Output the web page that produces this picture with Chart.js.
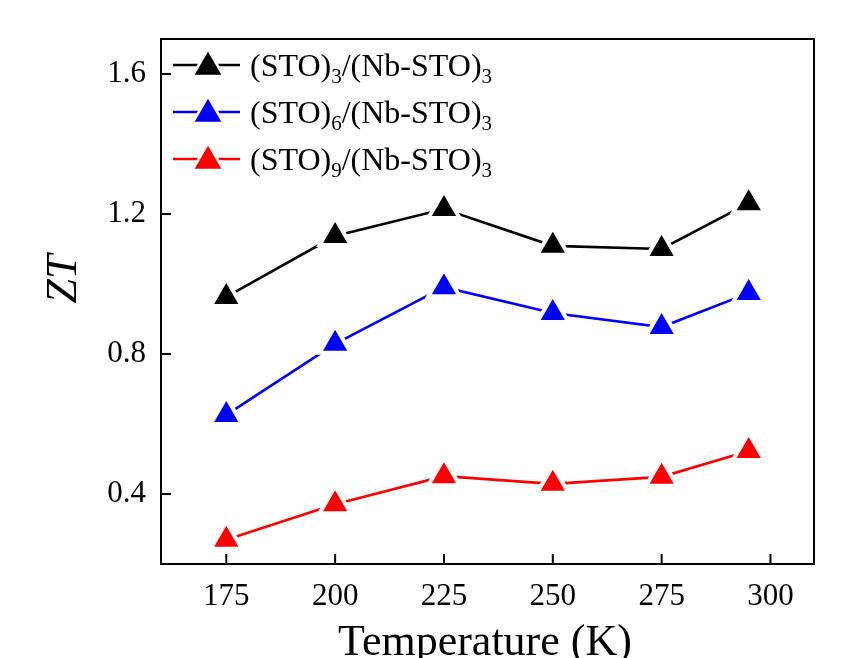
<!DOCTYPE html>
<html>
<head>
<meta charset="utf-8">
<script src="https://cdn.jsdelivr.net/npm/chart.js@4"></script>
<style>
  html, body { margin: 0; padding: 0; background: #fff; }
</style>
</head>
<body>
<canvas id="ztChart" width="847" height="658"></canvas>
<script>
// ---- data ----
const temps = [175, 200, 225, 250, 275, 295];
const zt3 = [0.963, 1.137, 1.214, 1.109, 1.100, 1.231];
const zt6 = [0.626, 0.829, 0.991, 0.917, 0.877, 0.974];
const zt9 = [0.269, 0.371, 0.451, 0.429, 0.449, 0.523];
const xTicks = [175, 200, 225, 250, 275, 300];
const yTicks = [0.4, 0.8, 1.2, 1.6];
const seriesNames = ['(STO)3/(Nb-STO)3', '(STO)6/(Nb-STO)3', '(STO)9/(Nb-STO)3'];
// legend text split into [normal, sub, normal, sub]
const legendParts = [
  ['(STO)', '3', '/(Nb-STO)', '3'],
  ['(STO)', '6', '/(Nb-STO)', '3'],
  ['(STO)', '9', '/(Nb-STO)', '3']
];
const seriesColors = ['#000000', '#0000ff', '#ff0000'];

const FONT = "'Liberation Serif', 'Times New Roman', serif";
const MARK_R = 18, MARK_GAP = 4;

function makeSet(label, values, color) {
  return {
    label: label,
    data: temps.map((t, i) => ({ x: t, y: values[i] })),
    borderColor: color,
    borderWidth: 2.6,
    pointStyle: 'triangle',
    pointRadius: MARK_R,
    pointHoverRadius: MARK_R,
    pointBackgroundColor: color,
    pointBorderColor: '#ffffff',
    pointBorderWidth: MARK_GAP,
    pointHoverBorderWidth: MARK_GAP,
    tension: 0
  };
}

// frame + inward ticks
const framePlugin = {
  id: 'frame',
  beforeDatasetsDraw(chart) {
    const { ctx, chartArea: a, scales } = chart;
    ctx.save();
    ctx.strokeStyle = '#000';
    ctx.lineWidth = 2;
    ctx.strokeRect(a.left, a.top, a.right - a.left, a.bottom - a.top);
    ctx.beginPath();
    scales.x.ticks.forEach(t => {
      const px = scales.x.getPixelForValue(t.value);
      ctx.moveTo(px, a.bottom);
      ctx.lineTo(px, a.bottom - 10);
    });
    scales.y.ticks.forEach(t => {
      const py = scales.y.getPixelForValue(t.value);
      ctx.moveTo(a.left, py);
      ctx.lineTo(a.left + 10, py);
    });
    ctx.stroke();
    ctx.restore();
  }
};

// legend with subscripts, axis titles
const decorPlugin = {
  id: 'decor',
  afterDraw(chart) {
    const { ctx, chartArea: a } = chart;
    ctx.save();
    chart.data.datasets.forEach((ds, i) => {
      const y = a.top + 26 + i * 47;
      const x0 = a.left + 12;
      ctx.strokeStyle = ds.borderColor;
      ctx.lineWidth = 2.6;
      ctx.beginPath();
      ctx.moveTo(x0, y);
      ctx.lineTo(x0 + 67, y);
      ctx.stroke();
      ctx.fillStyle = ds.borderColor;
      ctx.strokeStyle = '#ffffff';
      Chart.helpers.drawPoint(ctx, { pointStyle: 'triangle', radius: MARK_R, rotation: 0, borderWidth: MARK_GAP }, x0 + 35, y + 2);
      // text
      let tx = a.left + 89;
      ctx.fillStyle = '#000';
      ctx.textBaseline = 'alphabetic';
      ctx.textAlign = 'left';
      legendParts[i].forEach((part, k) => {
        const sub = k % 2 === 1;
        ctx.font = (sub ? '21px ' : '32px ') + FONT;
        ctx.fillText(part, tx, y + (sub ? 18 : 11));
        tx += ctx.measureText(part).width;
      });
    });
    // axis titles
    ctx.fillStyle = '#000';
    ctx.textAlign = 'center';
    ctx.textBaseline = 'alphabetic';
    ctx.font = '44px ' + FONT;
    ctx.fillText('Temperature (K)', 485, 655);
    ctx.save();
    ctx.translate(64, 279);
    ctx.rotate(-Math.PI / 2);
    ctx.textBaseline = 'middle';
    ctx.font = 'italic 44px ' + FONT;
    ctx.fillText('ZT', 0, 0);
    ctx.restore();
    ctx.restore();
  }
};

const ctx = document.getElementById('ztChart').getContext('2d');
new Chart(ctx, {
  type: 'line',
  data: {
    datasets: [
      makeSet(seriesNames[0], zt3, seriesColors[0]),
      makeSet(seriesNames[1], zt6, seriesColors[1]),
      makeSet(seriesNames[2], zt9, seriesColors[2])
    ]
  },
  options: {
    responsive: false,
    animation: false,
    layout: { padding: { top: 39, right: 33, left: 0, bottom: 0 } },
    plugins: { legend: { display: false }, tooltip: { enabled: false } },
    scales: {
      x: {
        type: 'linear',
        min: 160,
        max: 310,
        afterBuildTicks: s => { s.ticks = xTicks.map(v => ({ value: v })); },
        afterFit: s => { s.height = 94; },
        grid: { display: false },
        border: { display: false },
        ticks: { color: '#000', font: { family: FONT, size: 31 }, padding: 6, maxRotation: 0 }
      },
      y: {
        min: 0.2,
        max: 1.7,
        afterBuildTicks: s => { s.ticks = yTicks.map(v => ({ value: v })); },
        afterFit: s => { s.width = 161; },
        grid: { display: false },
        border: { display: false },
        ticks: { color: '#000', font: { family: FONT, size: 31 }, padding: 7, callback: v => v.toFixed(1) }
      }
    }
  },
  plugins: [framePlugin, decorPlugin]
});
</script>
</body>
</html>
